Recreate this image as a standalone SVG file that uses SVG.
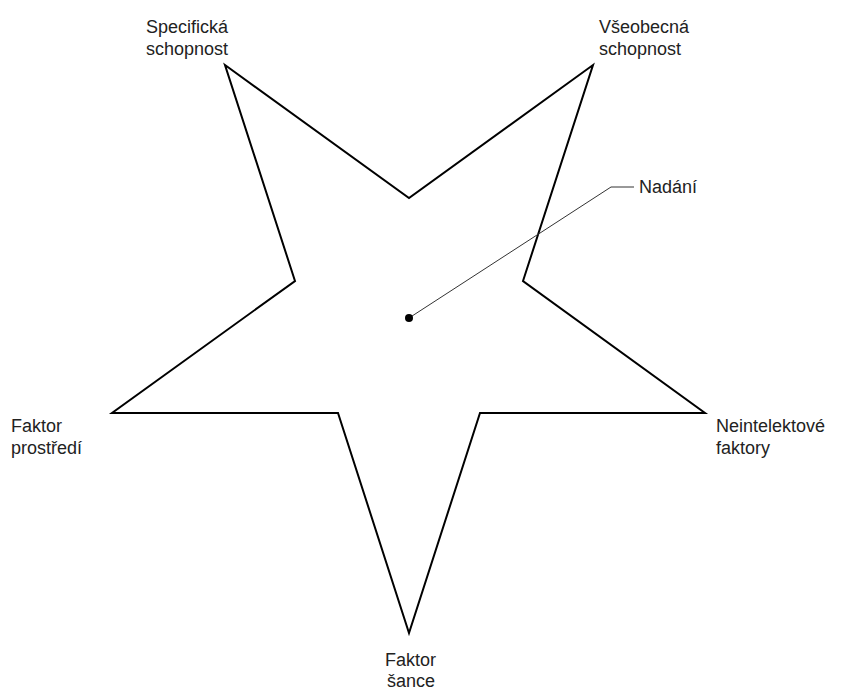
<svg xmlns="http://www.w3.org/2000/svg" width="851" height="691" viewBox="0 0 851 691">
<style>
.star{fill:#fff;stroke:#000;stroke-width:2;stroke-linejoin:miter}
.lbl{font-family:"Liberation Sans",Arial,sans-serif;font-size:18px;fill:#222}
.lead{fill:none;stroke:#333;stroke-width:1}
</style>
<rect width="851" height="691" fill="#fff"/>
<g id="star">
<path class="star" d="M225,65 L409,198 L593,65 L523,281 L705,413 L480,413 L409,633 L338,413 L112,413 L295,281 Z"/>
</g>
<g id="connectors">
<polyline class="lead" points="409,318 611,187 634,187"/>
<circle cx="409" cy="318" r="4" fill="#000"/>
</g>
<g id="specificka">
<text class="lbl" x="146" y="33">Specifická</text>
<text class="lbl" x="146" y="55">schopnost</text>
</g>
<g id="vseobecna">
<text class="lbl" x="599" y="33">Všeobecná</text>
<text class="lbl" x="599" y="55">schopnost</text>
</g>
<g id="nadani">
<text class="lbl" x="639" y="193">Nadání</text>
</g>
<g id="prostredi">
<text class="lbl" x="11" y="432">Faktor</text>
<text class="lbl" x="11" y="454">prostředí</text>
</g>
<g id="neintelektove">
<text class="lbl" x="716" y="432">Neintelektové</text>
<text class="lbl" x="716" y="454">faktory</text>
</g>
<g id="sance">
<text class="lbl" x="385" y="666">Faktor</text>
<text class="lbl" x="387" y="687">šance</text>
</g>
</svg>
